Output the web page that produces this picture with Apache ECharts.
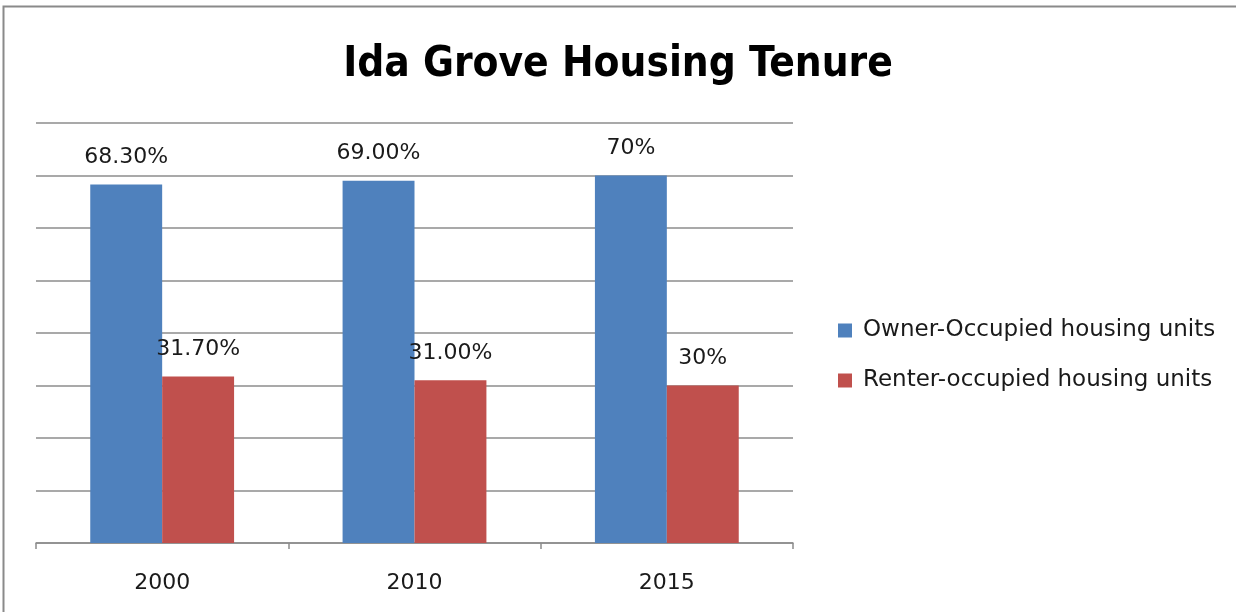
<!DOCTYPE html>
<html>
<head>
<meta charset="utf-8">
<script src="https://cdn.jsdelivr.net/npm/echarts@6/dist/echarts.min.js"></script>
<style>
    html, body { margin: 0; padding: 0; background: #fff; }
    #chart { width: 1236px; height: 612px; }
</style>
</head>
<body>
<div id="chart"></div>
<script>
// 数据
const years = ['2000', '2010', '2015']
const ownerValues = [68.3, 69.0, 70]
const renterValues = [31.7, 31.0, 30]
const ownerLabels = ['68.30%', '69.00%', '70%']
const renterLabels = ['31.70%', '31.00%', '30%']
const seriesNames = ['Owner-Occupied housing units', 'Renter-occupied housing units']

const chart = echarts.init(document.getElementById('chart'))

const labelStyle = (texts) => ({
    show: true,
    position: 'top',
    distance: 16,
    fontFamily: 'DejaVu Sans',
    fontSize: 22,
    color: '#1a1a1a',
    formatter: (p) => texts[p.dataIndex]
})

const option = {
    animation: false,
    // 外边框
    graphic: [{
        type: 'rect',
        left: 1,
        top: 4,
        shape: { width: 1400, height: 800 },
        style: { fill: 'none', stroke: '#8a8a8a', lineWidth: 2 },
        silent: true
    }],
    title: {
        text: 'Ida Grove Housing Tenure',
        left: 'center',
        top: 39,
        textStyle: {
            fontFamily: '"Liberation Sans Narrow", "DejaVu Sans Condensed", sans-serif',
            fontWeight: 'bold',
            fontSize: 42,
            color: '#000'
        }
    },
    legend: {
        orient: 'vertical',
        left: 833,
        top: 314,
        itemWidth: 14,
        itemHeight: 14,
        itemGap: 27,
        icon: 'rect',
        textStyle: {
            fontFamily: 'DejaVu Sans',
            fontSize: 23,
            color: '#1a1a1a',
            padding: [0, 0, 0, 6]
        },
        data: seriesNames
    },
    grid: {
        left: 36,
        right: 1236 - 793,
        top: 123,
        bottom: 612 - 543
    },
    xAxis: {
        type: 'category',
        data: years,
        axisLine: { lineStyle: { color: '#8c8c8c', width: 1.5 } },
        axisTick: { show: true, length: 6, lineStyle: { color: '#8c8c8c', width: 1.5 } },
        axisLabel: {
            margin: 29,
            fontFamily: 'DejaVu Sans',
            fontSize: 22,
            color: '#1a1a1a'
        }
    },
    yAxis: {
        type: 'value',
        min: 0,
        max: 80,
        interval: 10,
        axisLabel: { show: false },
        axisLine: { show: false },
        axisTick: { show: false },
        splitLine: { lineStyle: { color: '#8c8c8c', width: 1.5 } }
    },
    series: [
        {
            name: seriesNames[0],
            type: 'bar',
            data: ownerValues,
            barGap: '0%',
            barCategoryGap: '43%',
            itemStyle: { color: '#4F81BD' },
            label: labelStyle(ownerLabels)
        },
        {
            name: seriesNames[1],
            type: 'bar',
            data: renterValues,
            itemStyle: { color: '#C0504D' },
            label: labelStyle(renterLabels)
        }
    ]
}

chart.setOption(option)
</script>
</body>
</html>
